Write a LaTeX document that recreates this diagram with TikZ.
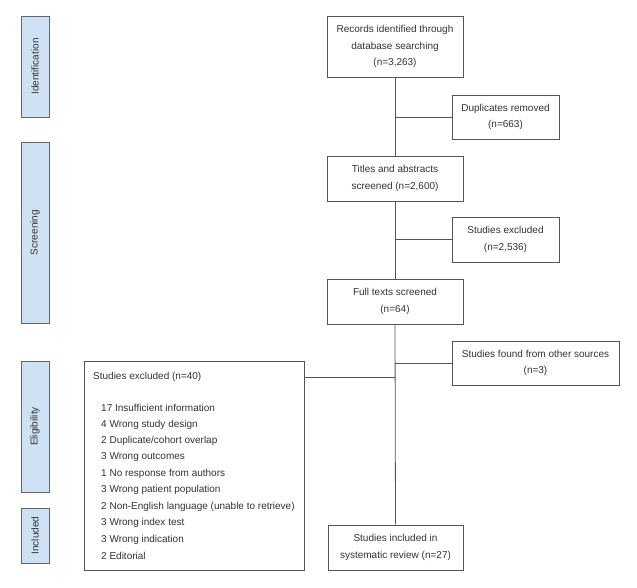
\documentclass[tikz,border=0pt]{standalone}
\usepackage{fontspec}
\setmainfont{Liberation Sans}
\definecolor{phasefill}{HTML}{CFE2F5}
\definecolor{txt}{HTML}{333333}
\definecolor{edge}{HTML}{555555}
\begin{document}
\begin{tikzpicture}[x=1pt,y=-1pt,
  box/.style={draw=edge, line width=0.8pt, fill=white, text=txt, font=\fontsize{10}{16.3}\selectfont, align=center, inner sep=0pt},
  phase/.style={draw=edge!90, line width=1pt, fill=phasefill, text=txt, font=\fontsize{10}{12}\selectfont, rotate=90, inner sep=0pt, minimum height=28pt},
  conn/.style={draw=edge, line width=0.8pt},
  item/.style={anchor=west, text=txt, font=\fontsize{10}{12}\selectfont, inner sep=0pt}]
\path[use as bounding box, fill=white] (0,0) rectangle (637,587);
% phase labels
\node[phase, minimum width=101pt] (pid) at (35,66.5) {Identification};
\node[phase, minimum width=181pt] (psc) at (35,232.5) {Screening};
\node[phase, minimum width=131pt] (pel) at (35,426.5) {Eligibility};
\node[phase, minimum width=55pt] (pin) at (35,535.5) {Included};
% main boxes
\node[box, minimum width=136pt, minimum height=61pt] (rec) at (395,46.5) {Records identified through\\database searching\\(n=3,263)};
\node[box, minimum width=107pt, minimum height=44pt] (dup) at (505.5,117) {Duplicates removed\\(n=663)};
\node[box, minimum width=136pt, minimum height=45pt] (tit) at (395,178.5) {Titles and abstracts\\screened (n=2,600)};
\node[box, minimum width=107pt, minimum height=45pt] (exa) at (505.5,239.5) {Studies excluded\\(n=2,536)};
\node[box, minimum width=136pt, minimum height=45pt] (ful) at (395,301.5) {Full texts screened\\(n=64)};
\node[box, minimum width=167pt, minimum height=44pt] (oth) at (535.5,363) {Studies found from other sources\\(n=3)};
\node[box, minimum width=220pt, minimum height=209pt] (exb) at (194,465.5) {};
\node[box, minimum width=135pt, minimum height=45pt] (inc) at (395.5,547.5) {Studies included in\\systematic review (n=27)};
% excluded list
\node[item] (exbt) at (93,377) {Studies excluded (n=40)};
\foreach \t [count=\i] in {17 Insufficient information, 4 Wrong study design, 2 Duplicate/cohort overlap, 3 Wrong outcomes, 1 No response from authors, 3 Wrong patient population, 2 Non-English language (unable to retrieve), 3 Wrong index test, 3 Wrong indication, 2 Editorial}
  \node[item] (it\i) at (101,{408+16.45*(\i-1)}) {\t};
% connectors
\coordinate (j1) at (395,117);
\coordinate (j2) at (395,239.5);
\coordinate (j3) at (395,363);
\coordinate (j4) at (395,377);
\coordinate (e4) at (304,377);
\draw[conn] (rec.south) -- (tit.north);
\draw[conn] (j1) -- (dup.west);
\draw[conn] (tit.south) -- (ful.north);
\draw[conn] (j2) -- (exa.west);
\draw[conn] (ful.south) -- (inc.north);
\draw[conn] (j3) -- (oth.west);
\draw[conn] (e4) -- (j4);
\end{tikzpicture}
\end{document}
